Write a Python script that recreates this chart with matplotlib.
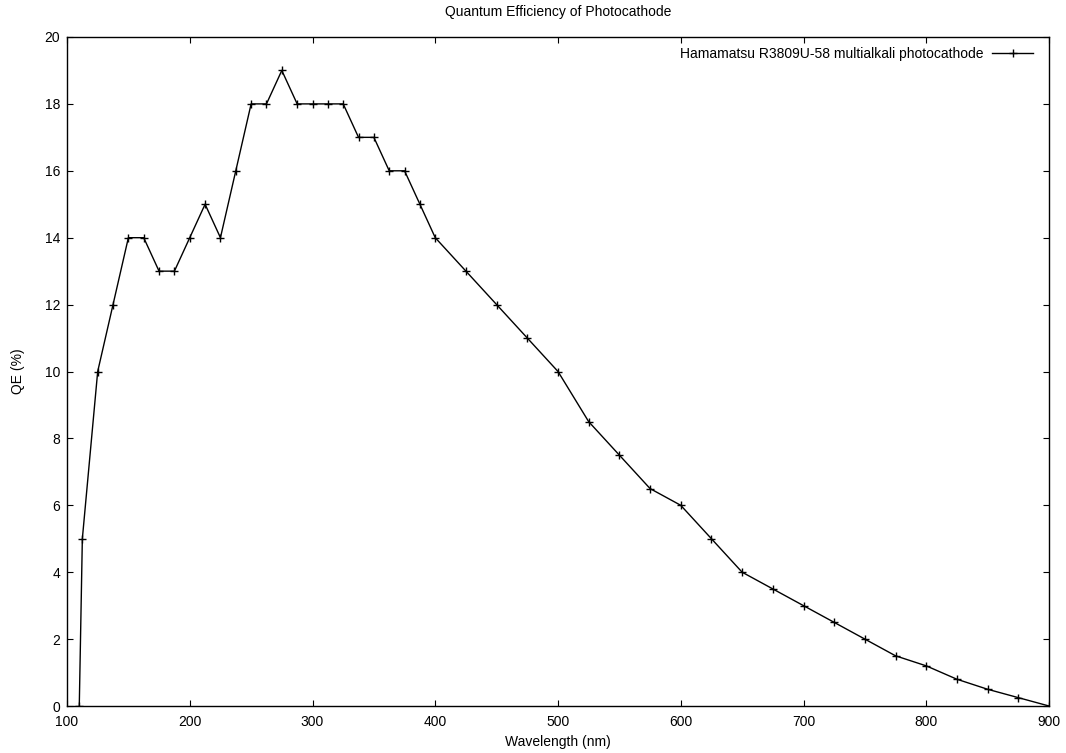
#!/usr/bin/env python3
"""
Quantum efficiency curve of the R3809U-58 photocathode, gnuplot look.
"""

import matplotlib
matplotlib.use("Agg")
import matplotlib.pyplot as plt

# Data
wavelength_nm = [110, 112.5, 125, 137.5, 150, 162.5, 175, 187.5, 200, 212.5,
                 225, 237.5, 250, 262.5, 275, 287.5, 300, 312.5, 325, 337.5,
                 350, 362.5, 375, 387.5, 400, 425, 450, 475, 500, 525,
                 550, 575, 600, 625, 650, 675, 700, 725, 750, 775,
                 800, 825, 850, 875, 900]
qe_percent = [0, 5, 10, 12, 14, 14, 13, 13, 14, 15,
              14, 16, 18, 18, 19, 18, 18, 18, 18, 17,
              17, 16, 16, 15, 14, 13, 12, 11, 10, 8.5,
              7.5, 6.5, 6, 5, 4, 3.5, 3, 2.5, 2, 1.5,
              1.2, 0.8, 0.5, 0.25, 0]

x_ticks = list(range(100, 901, 100))
y_ticks = list(range(0, 21, 2))

plt.rcParams['font.family'] = ['Liberation Sans', 'DejaVu Sans']
plt.rcParams['font.size'] = 10

fig = plt.figure(figsize=(10.66, 7.53), dpi=100)
ax = fig.add_axes([67 / 1066, 47 / 753, (1049 - 67) / 1066, (706 - 37) / 753])

ax.plot(wavelength_nm, qe_percent, color='black', linewidth=1.0,
        marker='+', markersize=5.5, markeredgewidth=1.0,
        label='Hamamatsu R3809U-58 multialkali photocathode')

ax.set_xlim(100, 900)
ax.set_ylim(0, 20)
ax.set_xticks(x_ticks)
ax.set_yticks(y_ticks)
ax.tick_params(direction='in', length=4.5, width=0.8, top=True, right=True,
               labelsize=10)
ax.tick_params(axis='x', pad=6.5)
ax.tick_params(axis='y', pad=5)
for spine in ax.spines.values():
    spine.set_linewidth(1.0)

ax.set_xlabel('Wavelength (nm)', labelpad=4)
ax.set_ylabel('QE (%)', labelpad=14)
ax.set_title('Quantum Efficiency of Photocathode', fontsize=10, pad=15)

ax.legend(loc='upper right', frameon=False, markerfirst=False,
          handlelength=3.0, borderaxespad=0.3, handletextpad=0.6,
          fontsize=10, bbox_to_anchor=(0.994, 1.0))

plt.savefig('out.png', dpi=100)
plt.close()
